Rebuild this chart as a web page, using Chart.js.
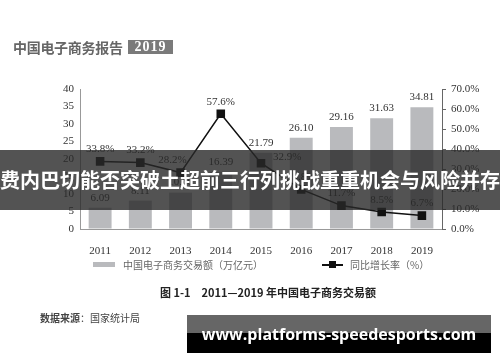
<!DOCTYPE html>
<html>
<head>
<meta charset="utf-8">
<script src="https://cdn.jsdelivr.net/npm/chart.js@4.4.0/dist/chart.umd.min.js"></script>
<style>
  html, body { margin: 0; padding: 0; background: #fff; }
  #wrap { position: relative; width: 500px; height: 362px; overflow: hidden; font-family: "Noto Sans CJK SC", sans-serif; }
  #chart { position: absolute; left: 0; top: 0; }
  .abs { position: absolute; white-space: nowrap; }
  #title { left: 13px; top: 37px; font-size: 14px; font-weight: bold; color: #666; letter-spacing: -0.3px; }
  #year { left: 128px; top: 40px; width: 45px; height: 14px; background: #7a7a7a; color: #fff; font: bold 14px "Liberation Serif", serif; line-height: 14px; text-align: center; letter-spacing: 1px; }
  .leg { top: 257px; font-size: 10px; color: #666; }
  #caption { left: 160px; top: 284px; font-size: 11px; font-weight: bold; color: #222; }
  #source { left: 40px; top: 310px; font-size: 10px; color: #444; }
  #banner { left: 0; top: 150px; width: 500px; height: 60px; background: rgba(40,40,40,0.8); }
  #bannerText { left: -10px; width: 520px; top: 166px; text-align: center; color: #fff; font-size: 20px; font-weight: bold; line-height: 28px; }
  #wm { left: 187px; top: 315px; width: 304px; height: 38px; background: linear-gradient(#666 0, #666 18px, #000 18px); }
  #wmText { left: 187px; top: 322px; width: 304px; text-align: center; color: #fff; font: bold 16px "Open Sans", sans-serif; line-height: 24px; }
</style>
</head>
<body>
<div id="wrap">
  <canvas id="chart" width="500" height="362"></canvas>
  <div class="abs" id="title">中国电子商务报告</div>
  <div class="abs" id="year">2019</div>
  <div class="abs" style="left:93px;top:262px;width:22px;height:5px;background:#b9babd;"></div>
  <div class="abs leg" style="left:123px;">中国电子商务交易额（万亿元）</div>
  <div class="abs" style="left:322px;top:264px;width:21px;height:1.5px;background:#111;"></div>
  <div class="abs" style="left:329px;top:261px;width:7px;height:7px;background:#111;"></div>
  <div class="abs leg" style="left:350px;">同比增长率（%）</div>
  <div class="abs" id="caption">图 1-1　2011—2019 年中国电子商务交易额</div>
  <div class="abs" id="source"><b>数据来源</b>：国家统计局</div>
  <div class="abs" id="banner"></div>
  <div class="abs" id="bannerText">费内巴切能否突破土超前三行列挑战重重机会与风险并存</div>
  <div class="abs" id="wm"></div>
  <div class="abs" id="wmText">www.platforms-speedesports.com</div>
</div>
<script>
// chart data
const years = ['2011', '2012', '2013', '2014', '2015', '2016', '2017', '2018', '2019'];
const tradeVolume = [6.09, 8.11, 10.40, 16.39, 21.79, 26.10, 29.16, 31.63, 34.81];
const growthRate = [33.8, 33.2, 28.2, 57.6, 32.9, 19.8, 11.7, 8.5, 6.7];

// where the percent label sits relative to its point
const pctLabelSide = ['top', 'top', 'topleft', 'top', 'right', 'top', 'top', 'top', 'top'];

const serif = '"Liberation Serif", "Times New Roman", serif';

// draws the value labels above bars and points
const valueLabels = {
  id: 'valueLabels',
  afterDatasetsDraw(chart) {
    const ctx = chart.ctx;
    ctx.save();
    ctx.font = '11px ' + serif;
    ctx.fillStyle = '#333';
    ctx.textAlign = 'center';
    ctx.textBaseline = 'middle';
    chart.getDatasetMeta(1).data.forEach((bar, i) => {
      ctx.fillText(tradeVolume[i].toFixed(2), bar.x, bar.y - 10);
    });
    chart.getDatasetMeta(0).data.forEach((pt, i) => {
      const txt = growthRate[i].toFixed(1) + '%';
      const side = pctLabelSide[i];
      if (side === 'right') {
        ctx.textAlign = 'left';
        ctx.fillText(txt, pt.x + 12, pt.y - 6);
      } else if (side === 'topleft') {
        ctx.textAlign = 'center';
        ctx.fillText(txt, pt.x - 8, pt.y - 12);
      } else {
        ctx.textAlign = 'center';
        ctx.fillText(txt, pt.x, pt.y - 12);
      }
    });
    ctx.restore();
  }
};

const ctx = document.getElementById('chart').getContext('2d');
new Chart(ctx, {
  type: 'bar',
  data: {
    labels: years,
    datasets: [
      {
        type: 'line',
        label: '同比增长率（%）',
        data: growthRate,
        yAxisID: 'yRight',
        borderColor: '#111',
        backgroundColor: '#111',
        borderWidth: 1.5,
        pointStyle: 'rect',
        pointRadius: 5,
        tension: 0,
        order: 0,
      },
      {
        label: '中国电子商务交易额（万亿元）',
        data: tradeVolume,
        yAxisID: 'y',
        backgroundColor: '#b9babd',
        barPercentage: 0.57,
        categoryPercentage: 1,
        order: 1,
      },
    ],
  },
  options: {
    responsive: false,
    animation: false,
    layout: { padding: { top: 89, bottom: 0, left: 0, right: 0 } },
    plugins: { legend: { display: false }, tooltip: { enabled: false } },
    scales: {
      x: {
        grid: { display: false },
        border: { display: true, color: '#999', width: 1 },
        ticks: { color: '#333', font: { family: serif, size: 11 }, padding: 8 },
        afterFit(scale) { scale.height = 133; },
      },
      y: {
        position: 'left',
        min: 0,
        max: 40,
        ticks: { stepSize: 5, color: '#333', font: { family: serif, size: 11 }, padding: 6 },
        grid: { drawOnChartArea: false, drawTicks: false, color: 'rgba(0,0,0,0)' },
        border: { display: true, color: '#999', width: 1 },
        afterFit(scale) { scale.width = 80; },
      },
      yRight: {
        position: 'right',
        min: 0,
        max: 70,
        ticks: {
          stepSize: 10,
          color: '#333',
          font: { family: serif, size: 11 },
          padding: 5,
          callback: v => v.toFixed(1) + '%',
        },
        grid: { drawOnChartArea: false, drawTicks: true, tickLength: 4, color: '#666' },
        border: { display: true, color: '#666', width: 1 },
        afterFit(scale) { scale.width = 58; },
      },
    },
  },
  plugins: [valueLabels],
});
</script>
</body>
</html>
